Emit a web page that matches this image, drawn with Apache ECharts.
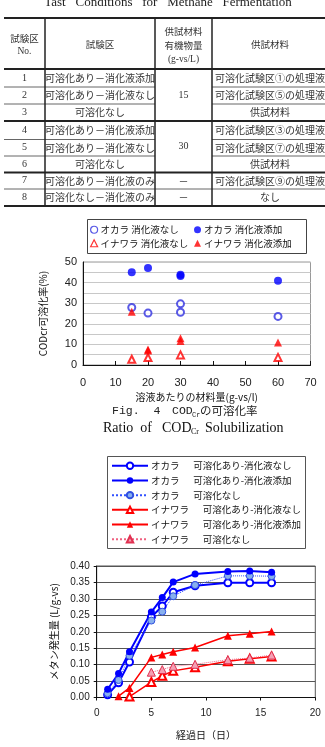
<!DOCTYPE html>
<html>
<head>
<meta charset="utf-8">
<script src="https://cdn.jsdelivr.net/npm/echarts@6/dist/echarts.min.js"></script>
<style>
html, body { margin: 0; padding: 0; background: #fff; }
#main { width: 325px; height: 747px; }
</style>
</head>
<body>
<div id="main"></div>
<script>
// ---- table (Tast Conditions for Methane Fermentation)
var table_no = ['1', '2', '3', '4', '5', '6', '7', '8'];
var table_area = ['可溶化あり－消化液添加', '可溶化あり－消化液なし', '可溶化なし',
    '可溶化あり－消化液添加', '可溶化あり－消化液なし', '可溶化なし',
    '可溶化あり－消化液のみ', '可溶化なし－消化液のみ'];
var table_load = ['15', '30', '－', '－'];
var table_load_span = [[0, 3], [3, 6], [6, 7], [7, 8]];
var table_material = ['可溶化試験区①の処理液', '可溶化試験区⑤の処理液', '供試材料',
    '可溶化試験区③の処理液', '可溶化試験区⑦の処理液', '供試材料',
    '可溶化試験区⑨の処理液', 'なし'];

// ---- Fig.4 scatter (x: g-vs/l, y: %)
var okara_nodigest = [[15, 27.9], [20, 25.2], [30, 29.7], [30, 25.6], [60, 23.6]];
var okara_digest = [[15, 45.0], [20, 47.1], [30, 43.8], [30, 43.2], [60, 40.9]];
var inawara_nodigest = [[15, 2.8], [20, 3.6], [30, 4.9], [60, 3.7]];
var inawara_digest = [[15, 25.8], [20, 7.5], [20, 7.0], [30, 13.0], [30, 11.6], [60, 10.9]];

// ---- methane production (x: days, y: L/g-vs)
var okara_days = [1, 2, 3, 5, 6, 7, 9, 12, 14, 16];
var okara_sol_nodigest = [0.008, 0.045, 0.108, 0.245, 0.278, 0.320, 0.340, 0.349, 0.349, 0.349];
var okara_sol_digest = [0.025, 0.073, 0.139, 0.260, 0.304, 0.351, 0.376, 0.383, 0.385, 0.381];
var okara_nosol = [0.013, 0.053, 0.127, 0.234, 0.261, 0.308, 0.342, 0.370, 0.370, 0.369];
var inawara_nodigest_days = [3, 5, 6, 7, 9, 12, 14, 16];
var inawara_sol_nodigest = [0.003, 0.047, 0.066, 0.081, 0.092, 0.110, 0.118, 0.125];
var inawara_digest_days = [2, 3, 5, 6, 7, 9, 12, 14, 16];
var inawara_sol_digest = [0.004, 0.029, 0.122, 0.131, 0.139, 0.152, 0.188, 0.194, 0.201];
var inawara_nosol_days = [5, 6, 7, 9, 12, 14, 16];
var inawara_nosol = [0.077, 0.085, 0.095, 0.101, 0.115, 0.120, 0.129];

var jp = "'Noto Sans CJK JP'";

function pairs(xs, ys) {
    return xs.map(function (x, i) { return [x, ys[i]]; });
}

function hline(x1, x2, y, w) {
    return {
        type: 'line', silent: true,
        shape: { x1: x1, y1: y, x2: x2, y2: y },
        style: { stroke: w > 1 ? '#222' : '#666', lineWidth: w }
    };
}

function vline(x, y1, y2) {
    return {
        type: 'line', silent: true,
        shape: { x1: x, y1: y1, x2: x, y2: y2 },
        style: { stroke: '#222', lineWidth: 1.5 }
    };
}

function txt(s, x, y, font, align, fill) {
    return {
        type: 'text', silent: true, x: x, y: y,
        style: { text: s, font: font, align: align || 'center', verticalAlign: 'middle', fill: fill || '#333' }
    };
}

// legend entry drawn as a white-filled symbol with a coloured outline
function hollow(name, icon, color) {
    return { name: name, icon: icon, itemStyle: { color: '#fff', borderColor: color, borderWidth: 1.2 } };
}

function table_graphics() {
    var g = [];
    var mid = [24.5, 100, 183.5, 270];
    var rows = [69, 87, 104, 121, 139.5, 156, 172.5, 189, 206];
    var f = '10px ' + jp;

    g.push(txt('Tast   Conditions   for   Methane   Fermentation', 168, 3, '13px "Liberation Serif"', 'center', '#222'));

    // lines
    g.push(hline(4, 330, 18, 2));
    [69, 121, 172.5, 206].forEach(function (y) { g.push(hline(4, 330, y, 2)); });
    [87, 104, 139.5, 156].forEach(function (y) {
        g.push(hline(4, 155, y, 1));
        g.push(hline(212, 330, y, 1));
    });
    g.push(hline(4, 330, 189, 1));
    [45, 155, 212].forEach(function (x) { g.push(vline(x, 18, 206)); });

    // header
    g.push(txt('試験区', mid[0], 38, '9.5px ' + jp));
    g.push(txt('No.', mid[0], 51, '9.5px "Liberation Serif"'));
    g.push(txt('試験区', mid[1], 44, '9.5px ' + jp));
    g.push(txt('供試材料', mid[2], 31, '9.5px ' + jp));
    g.push(txt('有機物量', mid[2], 45, '9.5px ' + jp));
    g.push(txt('(g-vs/L)', mid[2], 59, '9.5px "Liberation Serif"'));
    g.push(txt('供試材料', mid[3], 44, '9.5px ' + jp));

    // body
    for (var i = 0; i < table_no.length; i++) {
        var cy = (rows[i] + rows[i + 1]) / 2;
        g.push(txt(table_no[i], mid[0], cy, '10px "Liberation Serif"'));
        g.push(txt(table_area[i], mid[1], cy, f));
        g.push(txt(table_material[i], mid[3], cy, f));
    }
    table_load.forEach(function (s, k) {
        var sp = table_load_span[k];
        var cy = (rows[sp[0]] + rows[sp[1]]) / 2;
        g.push(txt(s, mid[2], cy, s === '－' ? f : '10px "Liberation Serif"'));
    });
    return g;
}

function caption_graphics() {
    var g = [];
    // Fig. 4 caption
    g.push(txt('Fig.  4', 112, 411, '11.5px "Liberation Mono"', 'left', '#222'));
    g.push(txt('COD', 172, 411, '11.5px "Liberation Mono"', 'left', '#222'));
    g.push(txt('Cr', 192, 415, '7px "Liberation Mono"', 'left', '#222'));
    g.push(txt('の可溶化率', 200, 411, '11.5px ' + jp, 'left', '#222'));
    // English caption
    g.push(txt('Ratio  of', 103, 428, '14px "Liberation Serif"', 'left', '#111'));
    g.push(txt('COD', 162, 428, '14px "Liberation Serif"', 'left', '#111'));
    g.push(txt('Cr', 191, 432, '8px "Liberation Serif"', 'left', '#111'));
    g.push(txt('Solubilization', 205, 428, '14px "Liberation Serif"', 'left', '#111'));
    // legend boxes
    g.push({ type: 'rect', silent: true, z: -1, shape: { x: 87.5, y: 219.5, width: 219, height: 34 },
        style: { fill: '#fff', stroke: '#444', lineWidth: 1 } });
    g.push({ type: 'rect', silent: true, z: -1, shape: { x: 107.5, y: 456.5, width: 198, height: 92 },
        style: { fill: '#fff', stroke: '#555', lineWidth: 1 } });
    return g;
}

var chart = echarts.init(document.getElementById('main'));

var num_font = "'Liberation Sans'";

var option = {
    animation: false,
    backgroundColor: '#fff',
    graphic: table_graphics().concat(caption_graphics()),
    legend: [
        {
            orient: 'vertical', left: 85, top: 220, itemGap: 4,
            itemWidth: 7, itemHeight: 7,
            textStyle: { fontSize: 9.5, fontFamily: jp, color: '#111', padding: [0, 0, 0, -2] },
            data: [hollow('オカラ 消化液なし', 'circle', '#3030e0'), hollow('イナワラ 消化液なし', 'triangle', '#ff0000')]
        },
        {
            orient: 'vertical', left: 189, top: 220, itemGap: 4,
            itemWidth: 7, itemHeight: 7,
            textStyle: { fontSize: 9.5, fontFamily: jp, color: '#111', padding: [0, 0, 0, -2] },
            data: ['オカラ 消化液添加', 'イナワラ 消化液添加']
        },
        {
            orient: 'vertical', left: 106, top: 456, itemGap: 5.2,
            itemWidth: 36, itemHeight: 8,
            textStyle: { fontSize: 9.5, fontFamily: jp, color: '#111', padding: [0, 0, 0, -2] },
            data: ['オカラ　  可溶化あり-消化液なし', 'オカラ　  可溶化あり-消化液添加', 'オカラ　  可溶化なし',
                'イナワラ　  可溶化あり-消化液なし', 'イナワラ　  可溶化あり-消化液添加', 'イナワラ　  可溶化なし']
        }
    ],
    grid: [
        { left: 83, top: 262, width: 227.5, height: 103, show: true, borderColor: '#999', borderWidth: 1 },
        { left: 96.7, top: 566, width: 218.6, height: 131.5, show: true, borderColor: '#555', borderWidth: 1 }
    ],
    xAxis: [
        {
            gridIndex: 0, type: 'value', min: 0, max: 70, interval: 10,
            name: '溶液あたりの材料量(g-vs/l)', nameLocation: 'middle', nameGap: 27,
            nameTextStyle: { fontSize: 10, fontFamily: jp, color: '#111' },
            axisLine: { lineStyle: { color: '#111' } },
            axisTick: { inside: true, length: 4, lineStyle: { color: '#111' } },
            axisLabel: { fontSize: 11, margin: 12, fontFamily: num_font, color: '#222' },
            splitLine: { show: false }
        },
        {
            gridIndex: 1, type: 'value', min: 0, max: 20, interval: 5,
            name: '経過日（日）', nameLocation: 'middle', nameGap: 33,
            nameTextStyle: { fontSize: 10, fontFamily: jp, color: '#111' },
            axisLine: { lineStyle: { color: '#111' } },
            axisTick: { length: 3, lineStyle: { color: '#111' } },
            axisLabel: { fontSize: 10, margin: 11, fontFamily: num_font, color: '#222' },
            splitLine: { show: false }
        }
    ],
    yAxis: [
        {
            gridIndex: 0, type: 'value', min: 0, max: 50, interval: 5,
            name: 'CODcr可溶化率(%)', nameLocation: 'middle', nameGap: 35, nameRotate: 90,
            nameTextStyle: { fontSize: 10, fontFamily: jp, color: '#111' },
            axisLine: { show: true, lineStyle: { color: '#111' } },
            axisTick: { show: false },
            axisLabel: {
                fontSize: 11, margin: 6, fontFamily: num_font, color: '#222',
                formatter: function (v) { return v % 10 === 0 ? String(v) : ''; }
            },
            splitLine: { lineStyle: { color: '#c8c8c8' } }
        },
        {
            gridIndex: 1, type: 'value', min: 0, max: 0.4, interval: 0.05,
            name: 'メタン発生量 (L/g-vs)', nameLocation: 'middle', nameGap: 33, nameRotate: 90,
            nameTextStyle: { fontSize: 10, fontFamily: jp, color: '#111' },
            axisLine: { show: true, lineStyle: { color: '#111' } },
            axisTick: { show: true, length: 3, lineStyle: { color: '#111' } },
            axisLabel: {
                fontSize: 10, margin: 7, fontFamily: num_font, color: '#222',
                formatter: function (v) { return v.toFixed(2); }
            },
            splitLine: { lineStyle: { color: '#555' } }
        }
    ],
    series: [
        {
            name: 'オカラ 消化液なし', type: 'scatter', xAxisIndex: 0, yAxisIndex: 0,
            symbol: 'emptyCircle', symbolSize: 7,
            itemStyle: { color: '#3030e0', borderWidth: 1.2 },
            data: okara_nodigest
        },
        {
            name: 'オカラ 消化液添加', type: 'scatter', xAxisIndex: 0, yAxisIndex: 0,
            symbol: 'circle', symbolSize: 8,
            itemStyle: { color: '#0000ff' },
            data: okara_digest
        },
        {
            name: 'イナワラ 消化液なし', type: 'scatter', xAxisIndex: 0, yAxisIndex: 0,
            symbol: 'emptyTriangle', symbolSize: 7,
            itemStyle: { color: '#ff0000', borderWidth: 1.1 },
            data: inawara_nodigest
        },
        {
            name: 'イナワラ 消化液添加', type: 'scatter', xAxisIndex: 0, yAxisIndex: 0,
            symbol: 'triangle', symbolSize: 8,
            itemStyle: { color: '#ff0000' },
            data: inawara_digest
        },
        {
            name: 'オカラ　  可溶化あり-消化液なし', type: 'line', xAxisIndex: 1, yAxisIndex: 1,
            symbol: 'emptyCircle', symbolSize: 7,
            lineStyle: { color: '#0000ff', width: 2 },
            itemStyle: { color: '#0000ff', borderWidth: 1.3 },
            data: pairs(okara_days, okara_sol_nodigest)
        },
        {
            name: 'オカラ　  可溶化なし', type: 'line', xAxisIndex: 1, yAxisIndex: 1,
            symbol: 'circle', symbolSize: 7,
            lineStyle: { color: '#3050ff', width: 1, type: 'dotted' },
            itemStyle: { color: '#88b0ee', borderColor: '#3050e0', borderWidth: 1 },
            data: pairs(okara_days, okara_nosol)
        },
        {
            name: 'オカラ　  可溶化あり-消化液添加', type: 'line', xAxisIndex: 1, yAxisIndex: 1,
            symbol: 'circle', symbolSize: 7,
            lineStyle: { color: '#0000ff', width: 2 },
            itemStyle: { color: '#0000ff' },
            data: pairs(okara_days, okara_sol_digest)
        },
        {
            name: 'イナワラ　  可溶化あり-消化液なし', type: 'line', xAxisIndex: 1, yAxisIndex: 1,
            symbol: 'emptyTriangle', symbolSize: 8,
            lineStyle: { color: '#ff0000', width: 1.5 },
            itemStyle: { color: '#ff0000', borderWidth: 1.2 },
            data: pairs(inawara_nodigest_days, inawara_sol_nodigest)
        },
        {
            name: 'イナワラ　  可溶化なし', type: 'line', xAxisIndex: 1, yAxisIndex: 1,
            symbol: 'triangle', symbolSize: 8,
            lineStyle: { color: '#f06080', width: 1, type: 'dotted' },
            itemStyle: { color: '#f4a0b4', borderColor: '#e03050', borderWidth: 1 },
            data: pairs(inawara_nosol_days, inawara_nosol)
        },
        {
            name: 'イナワラ　  可溶化あり-消化液添加', type: 'line', xAxisIndex: 1, yAxisIndex: 1,
            symbol: 'triangle', symbolSize: 8,
            lineStyle: { color: '#ff0000', width: 1.5 },
            itemStyle: { color: '#ff0000' },
            data: pairs(inawara_digest_days, inawara_sol_digest)
        }
    ]
};

chart.setOption(option);
</script>
</body>
</html>
